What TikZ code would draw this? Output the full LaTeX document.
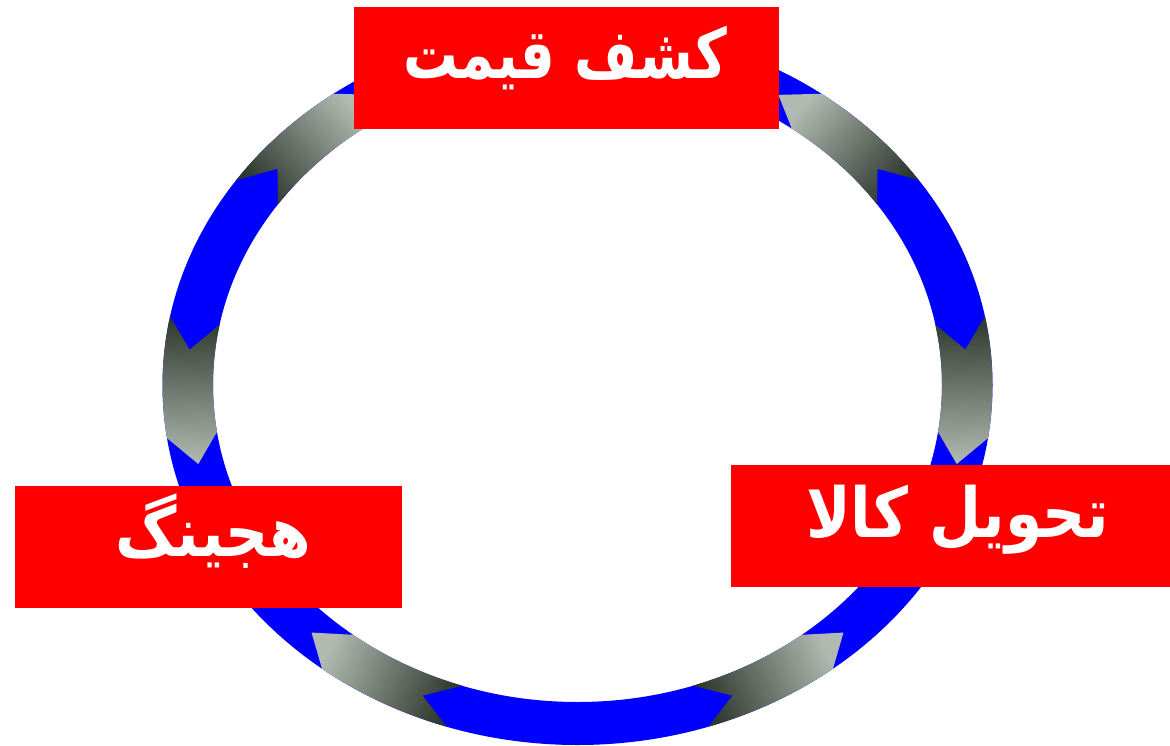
\documentclass[tikz,border=0pt]{standalone}
\usepackage{fontspec}
\newfontfamily\arabicfont[Script=Arabic]{DejaVu Sans}
\TeXXeTstate=1
\definecolor{ringblue}{RGB}{0,0,255}
\definecolor{boxred}{RGB}{255,0,0}
\definecolor{segdark}{RGB}{45,55,45}
\definecolor{seglight}{RGB}{176,186,176}
\newcommand\chevseg[4]{%
  \pgfmathsetmacro\ntipang{#1+5*#3}%
  \pgfmathsetmacro\htipang{#2+5*#3}%
  \shade[top color=segdark, bottom color=seglight, shading angle=#4]
    ({577.5+390*cos(\ntipang)},{385-338.5*sin(\ntipang)})
    -- plot[domain=#1:#2, samples=30] ({577.5+415*cos(\x)},{385-360*sin(\x)})
    -- ({577.5+390*cos(\htipang)},{385-338.5*sin(\htipang)})
    -- plot[domain=#2:#1, samples=30] ({577.5+364.5*cos(\x)},{385-317*sin(\x)})
    -- cycle;}
\begin{document}
\begin{tikzpicture}[x=1pt,y=-1pt,
  boxstyle/.style={fill=boxred, draw=none, inner sep=0pt, anchor=north west, minimum height=122pt},
  lbl/.style={text=white, font=\arabicfont\bfseries\fontsize{60}{66}\selectfont, inner sep=0pt, anchor=base}]
\useasboundingbox (0,0) rectangle (1170,745);
\fill[ringblue, even odd rule] (577.5,385) ellipse [x radius=415pt, y radius=360pt]
  (577.5,385) ellipse [x radius=364.5pt, y radius=317pt];
\chevseg{11}{-8.5}{-1}{1.5}
\chevseg{34.7}{54}{1}{228.5}
\chevseg{145.3}{126}{-1}{131.5}
\chevseg{169}{188.5}{1}{-1.5}
\chevseg{251.6}{232}{-1}{245.1}
\chevseg{288.4}{308}{1}{114.9}
\node[boxstyle, minimum width=425pt] (kbox) at (354,7) {};
\node[boxstyle, minimum width=439pt] (tbox) at (731,465) {};
\node[boxstyle, minimum width=387pt] (hbox) at (15,486) {};
\node[lbl] (ktext) at (565,78) {\scalebox{0.91}[1.15]{\beginR کشف قیمت\endR}};
\node[lbl] (ttext) at (957.5,537) {\scalebox{1.0}[1.15]{\beginR تحویل کالا\endR}};
\node[lbl] (htext) at (213,556) {\scalebox{1.0}[1.15]{\beginR هجینگ\endR}};
\end{tikzpicture}
\end{document}
